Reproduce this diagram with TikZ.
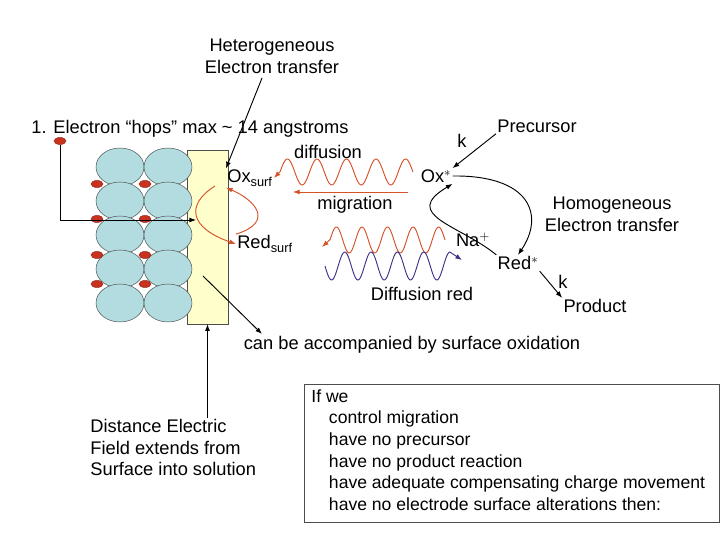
\documentclass[tikz,border=0pt]{standalone}
\usepackage{fontspec}
\setmainfont{Liberation Sans}
\usetikzlibrary{arrows.meta,shapes.geometric}
\definecolor{cellblue}{RGB}{178,220,224}
\definecolor{dotred}{RGB}{200,50,30}
\definecolor{wavered}{RGB}{214,80,40}
\definecolor{waveblue}{RGB}{60,50,140}
\definecolor{padyellow}{RGB}{255,255,204}
\begin{document}
\begin{tikzpicture}[
    x=0.03cm, y=-0.03cm,
    font=\fontsize{15.6}{18.5}\selectfont,
    lbl/.style={inner sep=1pt},
    cell/.style={draw=black!70, fill=cellblue, ellipse, minimum width=48*0.03cm, minimum height=38*0.03cm, inner sep=0pt},
    dot/.style={draw=dotred!70!black, fill=dotred, ellipse, minimum width=12*0.03cm, minimum height=7*0.03cm, inner sep=0pt},
    arrow/.style={-{Latex[length=2mm]}, thick, black},
    oarrow/.style={-{Latex[length=2mm]}, thick, wavered},
    barrow/.style={-{Latex[length=2mm]}, thick, waveblue}
]
\useasboundingbox (0,0) rectangle (720,540);

% Electrode
\node[draw=black!70, fill=padyellow, minimum width=41*0.03cm, minimum height=174*0.03cm, inner sep=0pt] (electrode) at (207.5,237) {};

% Cells and dots
\foreach \y [count=\i] in {167,201,235,269,303} {
  \node[cell] (a\i) at (120,\y) {};
  \node[cell] (b\i) at (168,\y) {};
}
\foreach \y [count=\i] in {184,219,255,284} {
  \node[dot] (da\i) at (97,\y) {};
  \node[dot] (db\i) at (145,\y) {};
}
\node[dot] (dtop) at (60,141) {};

% Texts
\node[lbl, align=center] (het) at (272,56) {Heterogeneous\\Electron transfer};
\node[lbl, anchor=west] (hops) at (30,129) {1. Electron “hops” max \textasciitilde{} 14 angstroms};
\node[lbl] (diff) at (328,152) {diffusion};
\node[lbl] (oxs) at (250,178) {Ox$_{\mathrm{surf}}$};
\node[lbl] (mig) at (355,205) {migration};
\node[lbl] (reds) at (265,244) {Red$_{\mathrm{surf}}$};
\node[lbl] (oxst) at (436,176) {Ox$^{*}$};
\node[lbl] (prec) at (537,126) {Precursor};
\node[lbl] (k1) at (462,141) {k};
\node[lbl] (na) at (473,240) {Na$^{+}$};
\node[lbl] (redst) at (518,263) {Red$^{*}$};
\node[lbl] (k2) at (563,282) {k};
\node[lbl] (prod) at (595,306) {Product};
\node[lbl, align=center] (homo) at (612,214) {Homogeneous\\Electron transfer};
\node[lbl] (diffred) at (422,294) {Diffusion red};
\node[lbl] (accomp) at (412,345) {can be accompanied by surface oxidation};
\coordinate (accin) at (262,334);
\node[lbl, align=left, anchor=north west] (dist) at (89,418) {Distance Electric\\Field extends from\\Surface into solution};
\draw[black!70] (304,384) rectangle (719.5,522);
\node[lbl, align=left, anchor=north west, font=\fontsize{15}{18.5}\selectfont] (cond) at (310,388)
  {If we\\\hspace{1em}control migration\\\hspace{1em}have no precursor\\\hspace{1em}have no product reaction\\\hspace{1em}have adequate compensating charge movement\\\hspace{1em}have no electrode surface alterations then:};

% Black arrows
\draw[arrow] (262,78) -- (oxs.north west);
\draw[arrow] (dtop.south) |- (196,220) coordinate (hit);
\draw[arrow] (prec.south west) -- (oxst.north east);
\draw[arrow] (oxst.east) .. controls (530,175) and (545,215) .. (redst.north);
\draw[arrow] (redst.north west) .. controls (460,225) and (400,215) .. (oxst.south east);
\draw[arrow] (redst.south east) -- (prod.north west);
\draw[arrow] (203,276) -- (accin);
\draw[arrow] (dist.north -| electrode.south) -- (electrode.south);

% Orange paths at the electrode
\draw[oarrow] (215,186) .. controls (185,205) and (190,228) .. (reds.west);
\draw[oarrow] (reds.north west) .. controls (275,222) and (255,200) .. (oxs.south west);

% Waves
\draw[oarrow] plot[domain=0:1, samples=120] ({413-133*\x}, {172-13*sin(4.5*360*\x)}) -- (oxs.east);
\draw[oarrow] (408,192) -- (293,192);
\draw[oarrow] plot[domain=0:1, samples=120] ({445-115*\x}, {240-13*sin(4.5*360*\x)}) -- (322,247);
\draw[barrow] plot[domain=0:1, samples=120] ({325+125*\x}, {266+14*sin(4.75*360*\x)}) -- (462,260);
\end{tikzpicture}
\end{document}
